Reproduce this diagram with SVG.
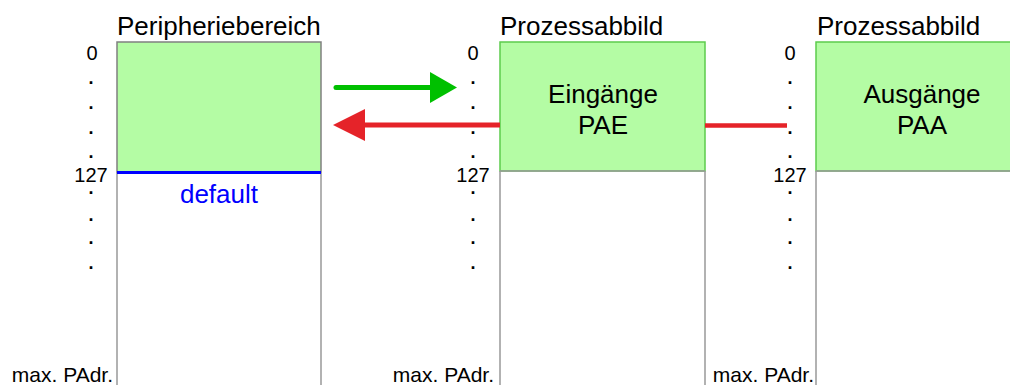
<svg xmlns="http://www.w3.org/2000/svg" width="1010" height="385" viewBox="0 0 1010 385">
<style>
text{font-family:"Liberation Sans",Arial,sans-serif;fill:#000}
.t{font-size:26px}
.n{font-size:20px;text-anchor:middle}
.d{font-size:18px;text-anchor:middle;font-weight:bold}
.m{font-size:21px;text-anchor:end}
.c{font-size:26px;text-anchor:middle}
.side{stroke:#999;stroke-width:1.5;fill:none}
.g1{fill:#b4fca4;stroke:#808080;stroke-width:1.5}
.g2{fill:#b4fca4;stroke:#5ccc4c;stroke-width:1.5}
</style>
<rect width="1010" height="385" fill="#fff"/>
<g id="periph">
<text class="t" x="117" y="35">Peripheriebereich</text>
<rect class="g1" x="117" y="42" width="204" height="130"/>
<path class="side" d="M117 172V385M321 172V385"/>
<line x1="117" y1="172.5" x2="321" y2="172.5" stroke="#0000ff" stroke-width="3"/>
<text x="219" y="203" style="font-size:26px;text-anchor:middle;fill:#0000ff">default</text>
<text class="n" x="92" y="60">0</text>
<text class="d" x="91" y="84">.</text><text class="d" x="91" y="109">.</text><text class="d" x="91" y="134">.</text><text class="d" x="91" y="158">.</text>
<text class="n" x="91" y="182">127</text>
<text class="d" x="91" y="194">.</text><text class="d" x="91" y="221">.</text><text class="d" x="91" y="244">.</text><text class="d" x="91" y="269">.</text>
<text class="m" x="113" y="382">max. PAdr.</text>
</g>
<g id="pae">
<text class="t" x="500" y="35">Prozessabbild</text>
<rect class="g2" x="500" y="42" width="205" height="129"/>
<path class="side" d="M500 171H705M500 171V385M705 171V385"/>
<text class="c" x="603" y="103">Eingänge</text>
<text class="c" x="603" y="134">PAE</text>
<text class="n" x="473" y="60">0</text>
<text class="d" x="473" y="84">.</text><text class="d" x="473" y="109">.</text><text class="d" x="473" y="134">.</text><text class="d" x="473" y="158">.</text>
<text class="n" x="473" y="182">127</text>
<text class="d" x="473" y="194">.</text><text class="d" x="473" y="221">.</text><text class="d" x="473" y="244">.</text><text class="d" x="473" y="269">.</text>
<text class="m" x="494" y="382">max. PAdr.</text>
</g>
<g id="paa">
<text class="t" x="817" y="35">Prozessabbild</text>
<rect class="g2" x="816" y="42" width="212" height="129"/>
<path class="side" d="M816 171H1010M816 171V385"/>
<text class="c" x="922" y="103">Ausgänge</text>
<text class="c" x="922" y="134">PAA</text>
<text class="n" x="790" y="60">0</text>
<text class="d" x="790" y="84">.</text><text class="d" x="790" y="109">.</text><text class="d" x="790" y="134">.</text><text class="d" x="790" y="158">.</text>
<text class="n" x="790" y="182">127</text>
<text class="d" x="790" y="194">.</text><text class="d" x="790" y="221">.</text><text class="d" x="790" y="244">.</text><text class="d" x="790" y="269">.</text>
<text class="m" x="814" y="382">max. PAdr.</text>
</g>
<g id="connectors">
<line x1="336" y1="87.5" x2="433" y2="87.5" stroke="#00c000" stroke-width="5" stroke-linecap="round"/>
<polygon points="430,72 457,87.5 430,103" fill="#00c000"/>
<line x1="362" y1="125" x2="500" y2="125" stroke="#e52329" stroke-width="5"/>
<polygon points="365,109 333,125 365,141" fill="#e52329"/>
<line x1="705" y1="125.5" x2="787" y2="125.5" stroke="#e52329" stroke-width="4.5"/>
</g>
</svg>
